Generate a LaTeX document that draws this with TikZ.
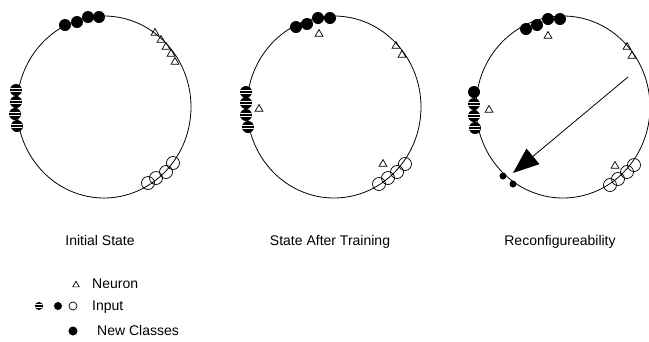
\documentclass[tikz,border=0pt]{standalone}
\usepackage{fontspec}
\setmainfont{Liberation Sans}
\usetikzlibrary{arrows.meta}
\usetikzlibrary{shapes.geometric}

\begin{document}
\begin{tikzpicture}[x=1pt,y=-1pt]
   \tikzset{
      Space/.style={draw,ellipse,line width=0.8pt,minimum width=174pt,minimum height=182pt,inner sep=0pt},
      Neuron/.style={draw,regular polygon,regular polygon sides=3,line width=0.7pt,minimum size=9pt,inner sep=0pt},
      Dot/.style={circle,fill=black,minimum size=12pt,inner sep=0pt},
      Ring/.style={circle,draw,line width=0.7pt,minimum size=13pt,inner sep=0pt},
      Striped/.style={circle,fill=black,minimum size=12pt,inner sep=0pt,
         path picture={\foreach \h in {-1.6,1.6}
            \draw[white,line width=0.45pt] ([yshift=\h pt]path picture bounding box.west) -- ([yshift=\h pt]path picture bounding box.east);}},
      NewClass/.style={circle,fill=black,minimum size=7pt,inner sep=0pt},
      Label/.style={anchor=base,inner sep=0pt,font=\fontsize{14}{16}\selectfont},
      Key/.style={anchor=base west,inner sep=0pt,font=\fontsize{14}{16}\selectfont}
   }
   \useasboundingbox (0,0) rectangle (649,341);

   % initial state
   \node[Space] (s1) at (104,107) {};
   \node[Dot] (a11) at (65,25) {};
   \node[Dot] (a12) at (77,22) {};
   \node[Dot] (a13) at (88,17) {};
   \node[Dot] (a14) at (99,17) {};
   \node[Striped] (b11) at (16,90) {};
   \node[Striped] (b12) at (16,102) {};
   \node[Striped] (b13) at (15,114) {};
   \node[Striped] (b14) at (17,126) {};
   \node[Ring] (c11) at (148,183) {};
   \node[Ring] (c12) at (156,178) {};
   \node[Ring] (c13) at (166,172) {};
   \node[Ring] (c14) at (173,163) {};
   \node[Neuron] (n11) at (155,33) {};
   \node[Neuron] (n12) at (161,40) {};
   \node[Neuron] (n13) at (166,47) {};
   \node[Neuron] (n14) at (171,54) {};
   \node[Neuron] (n15) at (175,62) {};
   \node[Label] (t1) at (100,245.5) {Initial State};

   % after training
   \node[Space] (s2) at (334,107) {};
   \node[Dot] (a21) at (296,27) {};
   \node[Dot] (a22) at (307,24) {};
   \node[Dot] (a23) at (318,18) {};
   \node[Dot] (a24) at (330,18) {};
   \node[Striped] (b21) at (246,92) {};
   \node[Striped] (b22) at (246,103) {};
   \node[Striped] (b23) at (246,115) {};
   \node[Striped] (b24) at (248,127) {};
   \node[Ring] (c21) at (379,184) {};
   \node[Ring] (c22) at (388,178) {};
   \node[Ring] (c23) at (397,172) {};
   \node[Ring] (c24) at (405,164) {};
   \node[Neuron] (n21) at (319,34) {};
   \node[Neuron] (n22) at (396,46) {};
   \node[Neuron] (n23) at (402,55) {};
   \node[Neuron] (n24) at (259,109) {};
   \node[Neuron] (n25) at (383,164) {};
   \node[Label] (t2) at (330,245.5) {State After Training};

   % reconfigureability
   \node[Space] (s3) at (563,107) {};
   \node[Dot] (a31) at (526,29) {};
   \node[Dot] (a32) at (537,25) {};
   \node[Dot] (a33) at (548,19) {};
   \node[Dot] (a34) at (560,19) {};
   \node[Dot] (b31) at (474,92) {};
   \node[Striped] (b32) at (474,104) {};
   \node[Striped] (b33) at (474,116) {};
   \node[Striped] (b34) at (475,128) {};
   \node[Ring] (c31) at (610,185) {};
   \node[Ring] (c32) at (618,179) {};
   \node[Ring] (c33) at (627,172) {};
   \node[Ring] (c34) at (634,165) {};
   \node[Neuron] (n31) at (548,36) {};
   \node[Neuron] (n32) at (627,47) {};
   \node[Neuron] (n33) at (632,56) {};
   \node[Neuron] (n34) at (489,110) {};
   \node[Neuron] (n35) at (615,166) {};
   \node[NewClass] (e31) at (503,176) {};
   \node[NewClass] (e32) at (513,184) {};
   \coordinate (from) at (628,77);
   \coordinate (to) at (513,173);
   \draw[line width=0.8pt,-{Triangle[length=26pt,width=20pt]}] (from) -- (to);
   \node[Label] (t3) at (560,245.5) {Reconfigureability};

   % key
   \node[Neuron,minimum size=7.5pt] (kn) at (76,285) {};
   \node[Key] (kn-t) at (92,288) {Neuron};
   \node[Striped,minimum size=8pt] (ki1) at (39,306) {};
   \node[Dot,minimum size=8pt] (ki2) at (58,306) {};
   \node[Ring,minimum size=8pt] (ki3) at (73,306) {};
   \node[Key] (ki-t) at (92,310) {Input};
   \node[Dot,minimum size=9pt] (ke) at (73,331) {};
   \node[Key] (ke-t) at (97,335) {New Classes};
\end{tikzpicture}
\end{document}
